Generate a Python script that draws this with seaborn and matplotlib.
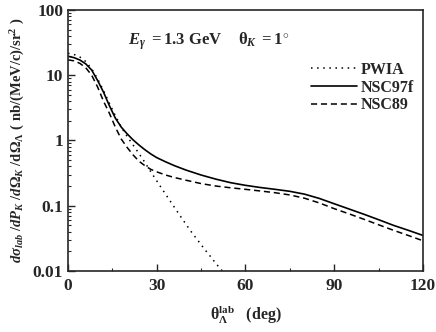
import numpy as np
import pandas as pd
import matplotlib
matplotlib.use('Agg')
import matplotlib.pyplot as plt
import seaborn as sns

# angles (deg) and cross sections
theta_pwia = [0, 2, 4, 6, 8, 10, 12, 14, 16, 18, 20, 22, 24, 26, 28, 30, 32, 34,
              36, 38, 40, 42, 44, 46, 48, 50, 52, 53]
pwia = [21.7, 20.8, 19, 16.2, 12.5, 8.8, 5.8, 3.7, 2.4, 1.6, 1.15, 0.85, 0.63,
        0.46, 0.33, 0.24, 0.175, 0.128, 0.094, 0.069, 0.051, 0.038, 0.029, 0.022,
        0.017, 0.013, 0.0102, 0.009]

theta = [0, 2, 4, 6, 8, 10, 12, 14, 16, 18, 20, 22, 24, 26, 28, 30, 33, 36, 40, 45,
         50, 55, 60, 65, 70, 75, 80, 85, 90, 95, 100, 105, 110, 115, 120]
nsc97f = [19.5, 18.6, 17.1, 14.9, 12, 8.3, 5.5, 3.4, 2.2, 1.6, 1.26, 1.02, 0.85,
          0.72, 0.62, 0.545, 0.47, 0.41, 0.35, 0.295, 0.255, 0.225, 0.205, 0.19,
          0.178, 0.166, 0.150, 0.129, 0.107, 0.089, 0.074, 0.061, 0.050, 0.042, 0.035]
nsc89 = [17.2, 16.6, 15.2, 13, 10, 6.6, 4.0, 2.6, 1.6, 1.05, 0.78, 0.6, 0.48,
         0.41, 0.36, 0.33, 0.295, 0.27, 0.245, 0.218, 0.20, 0.188, 0.178, 0.168,
         0.158, 0.146, 0.13, 0.11, 0.09, 0.075, 0.062, 0.051, 0.042, 0.035, 0.029]

sns.set_style('ticks')
plt.rcParams['font.family'] = ['Liberation Serif', 'DejaVu Serif']
plt.rcParams['font.weight'] = 'bold'
plt.rcParams['mathtext.fontset'] = 'custom'
plt.rcParams['mathtext.rm'] = 'Liberation Serif:bold'
plt.rcParams['mathtext.it'] = 'Liberation Serif:italic:bold'
plt.rcParams['mathtext.bf'] = 'Liberation Serif:bold'

fig = plt.figure(figsize=(4.36, 3.32), dpi=100)
ax = fig.add_axes([0.156, 0.184, 0.814, 0.786])

df_p = pd.DataFrame({'theta': theta_pwia, 'y': pwia})
df_n = pd.DataFrame({'theta': theta, 'a': nsc97f, 'b': nsc89})

sns.lineplot(data=df_p, x='theta', y='y', ax=ax, color='black', lw=1.1,
             linestyle=(0, (1, 3)), label='PWIA')
sns.lineplot(data=df_n, x='theta', y='a', ax=ax, color='black', lw=1.2,
             label='NSC97f')
sns.lineplot(data=df_n, x='theta', y='b', ax=ax, color='black', lw=1.1,
             linestyle=(0, (4, 2.5)), label='NSC89')

ax.set_yscale('log')
ax.set_xlim(0, 120)
ax.set_ylim(0.01, 100)
ax.set_xticks([0, 30, 60, 90, 120])
ax.set_xticks([15, 45, 75, 105], minor=True)
ax.set_yticks([0.01, 0.1, 1, 10, 100])
ax.set_yticklabels(['0.01', '0.1', '1', '10', '100'])
ax.tick_params(which='both', direction='in', top=False, right=False, labelsize=12.5)
ax.tick_params(which='major', length=5, width=1)
ax.tick_params(which='minor', length=2.5, width=0.8)
ax.tick_params(axis='x', pad=5)
for lab in ax.get_xticklabels() + ax.get_yticklabels():
    lab.set_fontweight('bold')
for s in ax.spines.values():
    s.set_linewidth(1.2)

ax.set_xlabel(r'$\mathrm{\theta}_{\Lambda}^{\mathrm{lab}}$   (deg)', fontsize=11.5,
              fontweight='bold', labelpad=7)
ax.set_ylabel(r'$d\sigma_{lab}\ /dP_K\ /d\Omega_K\ /\mathrm{d}\Omega_{\Lambda}$'
              r'$\mathrm{\ (\ nb/(MeV/c)/sr^2\ )}$', fontsize=10.5, labelpad=4)

ax.text(0.169, 0.866, r'$E_{\gamma}\ \mathrm{=1.3\ GeV}\quad\ \mathrm{\theta}_{K}\ \mathrm{=1^{\circ}}$',
        transform=ax.transAxes, fontsize=12)

leg = ax.legend(loc='upper right', bbox_to_anchor=(1.015, 0.857), frameon=False,
                handlelength=2.9, handletextpad=0.2, labelspacing=0.12,
                prop={'family': 'Liberation Serif', 'weight': 'bold', 'size': 11.5})

fig.savefig('out.png', dpi=100)
